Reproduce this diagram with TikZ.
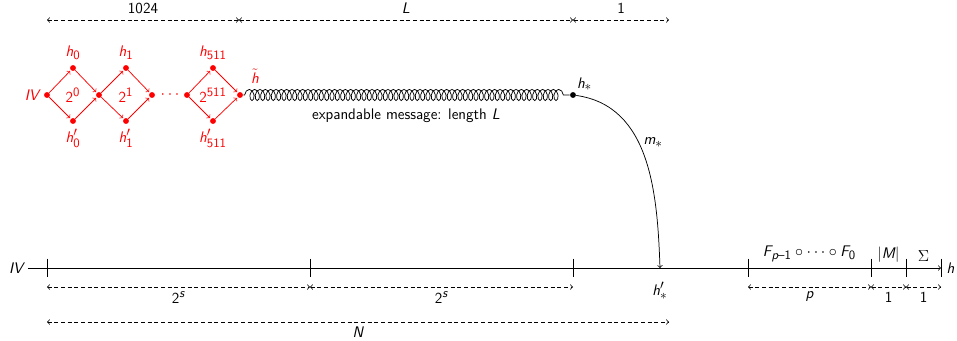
\documentclass[tikz,border=0pt]{standalone}
\renewcommand{\familydefault}{\sfdefault}
\usepackage[italic]{mathastext}
\usetikzlibrary{decorations.pathmorphing}

\tikzset{
  dot/.style={circle,fill,inner sep=0pt,minimum size=4.4pt},
  dim/.style={densely dashed,<->,>=to},
  chain/.style={red,->,>=to,shorten >=0.6pt},
  tick/.style={semithick},
}

\begin{document}
\begin{tikzpicture}[x=0.75pt,y=-0.75pt,line width=0.55pt,
  font=\fontsize{11.5pt}{14pt}\selectfont\sffamily]
\useasboundingbox (0,0) rectangle (957,340);

% dimensions on top
\coordinate (a0) at (47,20);
\coordinate (a1) at (239,20);
\coordinate (a2) at (573,20);
\coordinate (a3) at (669,20);
\draw[dim] (a0) -- node[above,yshift=1pt] {1024} (a1);
\draw[dim] (a1) -- node[above,yshift=1pt] {$L$} (a2);
\draw[dim] (a2) -- node[above,yshift=1pt] {1} (a3);

% the 512 diamonds
\begin{scope}[red]
\node[dot] (iv) at (47,95) {};
\node[left] at (iv.west) {$IV$};
\node[dot] (h0) at (73,68) {};
\node[dot] (h0p) at (73,121) {};
\node[dot] (n1) at (99,95) {};
\node[dot] (h1) at (126,68) {};
\node[dot] (h1p) at (126,121) {};
\node[dot] (n2) at (152,95) {};
\node[dot] (n3) at (187,95) {};
\node[dot] (h511) at (213,68) {};
\node[dot] (h511p) at (213,121) {};
\node[dot] (ht) at (240,95) {};
\node[above] at (h0.north) {$h_0$};
\node[below] at (h0p.south) {$h'_0$};
\node[above] at (h1.north) {$h_1$};
\node[below] at (h1p.south) {$h'_1$};
\node[above] at (h511.north) {$h_{511}$};
\node[below] at (h511p.south) {$h'_{511}$};
\node at (73,95) {$2^0$};
\node at (126,95) {$2^1$};
\node at (213,95) {$2^{511}$};
\node at (170,95) {$\cdots$};
\node at (255,76) {$\tilde h$};
\end{scope}
\draw[chain] (iv) -- (h0);
\draw[chain] (iv) -- (h0p);
\draw[chain] (h0) -- (n1);
\draw[chain] (h0p) -- (n1);
\draw[chain] (n1) -- (h1);
\draw[chain] (n1) -- (h1p);
\draw[chain] (h1) -- (n2);
\draw[chain] (h1p) -- (n2);
\draw[chain] (n3) -- (h511);
\draw[chain] (n3) -- (h511p);
\draw[chain] (h511) -- (ht);
\draw[chain] (h511p) -- (ht);

% expandable message
\node[dot] (hs) at (573,95) {};
\node[above right,inner sep=1pt] at (hs.north east) {$h_*$};
\draw[decorate,decoration={coil,aspect=0.6,amplitude=4.2pt,segment length=4pt,pre length=1pt,post length=2pt}] (ht) -- (hs);
\node at (406,116) {expandable message: length $L$};

% main chain
\node (ivb) at (16,268) {$IV$};
\coordinate (hsp) at (660,268);
\coordinate (t0) at (47,268);
\coordinate (t1) at (310,268);
\coordinate (t2) at (573,268);
\coordinate (t3) at (748,268);
\coordinate (t4) at (871,268);
\coordinate (t5) at (906,268);
\coordinate (t6) at (941,268);
\draw[->,>=to] (ivb.east) -- (t6);
\node[right,inner sep=4pt] (hfin) at (t6) {$h$};
\foreach \t in {t0,t1,t2,t3,t4,t5,t6}
  \draw[tick] ([yshift=7pt]\t) -- ([yshift=-7pt]\t);
\path (t3) -- node[above,yshift=1pt] {$F_{p-1}\circ\cdots\circ F_0$} (t4);
\path (t4) -- node[above,yshift=1pt] {$|M|$} (t5);
\path (t5) -- node[above,yshift=1pt] {$\Sigma$} (t6);

\draw[->,>=to] (hs) to[out=-8,in=92] node[right,pos=0.42] {$m_*$} (hsp);
\node[below,yshift=-7pt] (hspl) at (hsp) {$h'_*$};

% dimensions below
\coordinate (b0) at (47,287);
\coordinate (b1) at (310,287);
\coordinate (b2) at (573,287);
\coordinate (b3) at (748,287);
\coordinate (b4) at (871,287);
\coordinate (b5) at (906,287);
\coordinate (b6) at (941,287);
\draw[dim] (b0) -- node[below] {$2^s$} (b1);
\draw[dim] (b1) -- node[below] {$2^s$} (b2);
\draw[dim] (b3) -- node[below] {$p$} (b4);
\draw[dim] (b4) -- node[below] {1} (b5);
\draw[dim] (b5) -- node[below] {1} (b6);
\coordinate (c0) at (47,322);
\coordinate (c1) at (669,322);
\draw[dim] (c0) -- node[below] {$N$} (c1);
\end{tikzpicture}
\end{document}
